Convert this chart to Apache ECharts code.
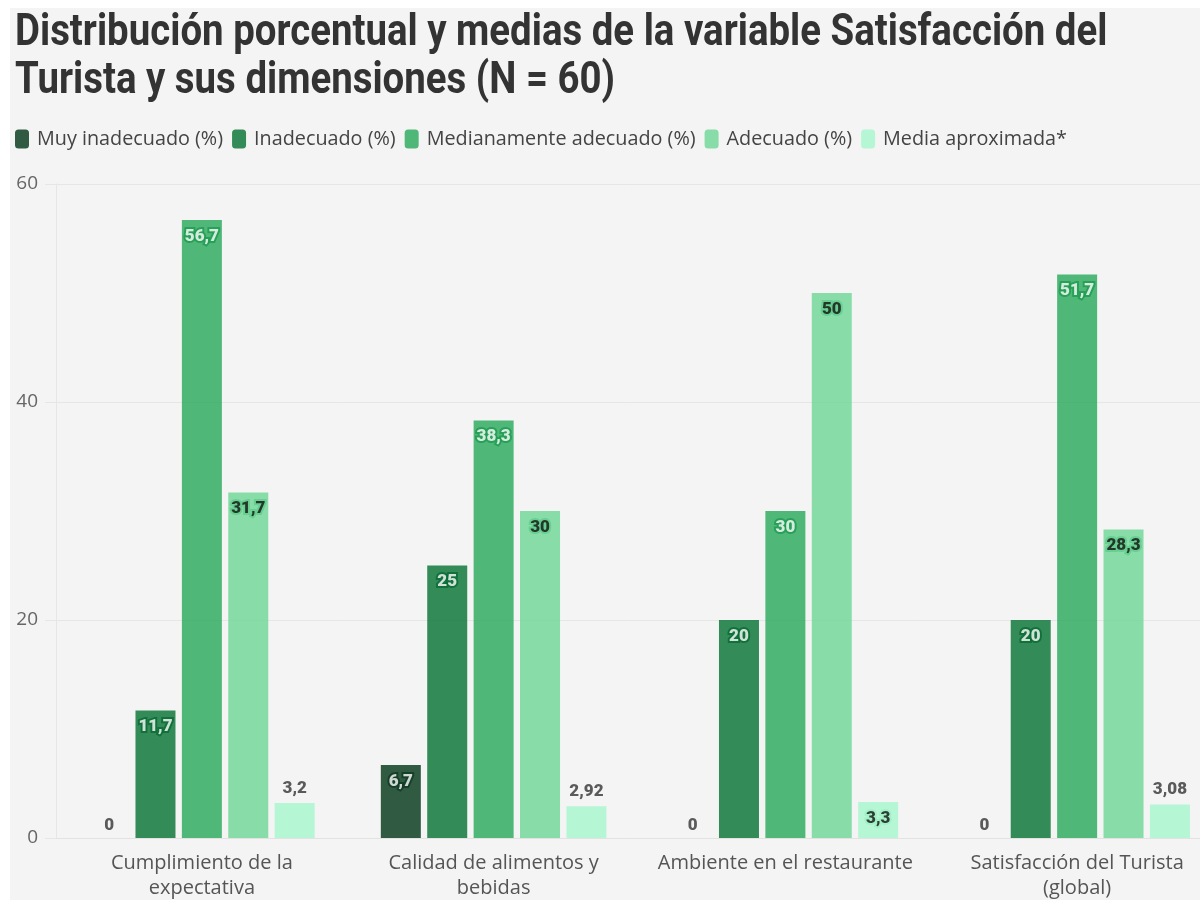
<!DOCTYPE html>
<html>
<head>
<meta charset="utf-8">
<script src="https://cdn.jsdelivr.net/npm/echarts@6/dist/echarts.min.js"></script>
<style>
  body { margin: 0; background: #ffffff; }
  #panel { position: absolute; left: 10px; top: 8px; width: 1190px; height: 892px; background: #f4f4f4; }
  #chart { position: absolute; left: 0; top: 0; width: 1200px; height: 900px; }
</style>
</head>
<body>
<div id="panel"></div>
<div id="chart"></div>
<script>
// datos
var categorias = ['Cumplimiento de la\nexpectativa', 'Calidad de alimentos y\nbebidas', 'Ambiente en el restaurante', 'Satisfacción del Turista\n(global)'];
var muyInadecuado = [0, 6.7, 0, 0];
var inadecuado = [11.7, 25, 20, 20];
var medianamente = [56.7, 38.3, 30, 51.7];
var adecuado = [31.7, 30, 50, 28.3];
var media = [3.2, 2.92, 3.3, 3.08];
var yTicks = [0, 20, 40, 60];

var chart = echarts.init(document.getElementById('chart'));

function coma(p) {
    return String(p.value).replace('.', ',');
}

function labelInside(color, stroke) {
    return {
        show: true, position: 'insideTop', distance: 8,
        color: color, textBorderColor: stroke, textBorderWidth: 4,
        fontFamily: 'Roboto', fontWeight: 900, fontSize: 17,
        formatter: coma
    };
}
var labelCero = {
    show: true, position: 'top', distance: 4, color: '#333',
    textBorderWidth: 0, fontFamily: 'Roboto', fontWeight: 900, fontSize: 17
};

// los ceros van encima de la base
function conCeros(arr) {
    return arr.map(function (v) {
        return v === 0 ? {value: v, label: labelCero} : v;
    });
}

var colores = ['#003315', '#037130', '#26a959', '#6cd695', '#a5f8cd'];
var fuente = 'Open Sans';

option = {
    color: colores,
    textStyle: {fontFamily: fuente},
    graphic: [
        {
            type: 'text', left: 15, top: 12, scaleX: 0.873, z: 10,
            style: {
                text: 'Distribución porcentual y medias de la variable Satisfacción del',
                font: 'bold 44px Roboto', fill: '#333'
            }
        },
        {
            type: 'text', left: 15, top: 60, scaleX: 0.873, z: 10,
            style: {
                text: 'Turista y sus dimensiones (N = 60)',
                font: 'bold 44px Roboto', fill: '#333'
            }
        }
    ],
    legend: {
        left: 10, top: 124, icon: 'roundRect', itemWidth: 14, itemHeight: 19,
        itemGap: 9,
        textStyle: {color: '#444', fontSize: 19.8, fontFamily: fuente, padding: [0, 0, 0, 3]},
        data: ['Muy inadecuado (%)', 'Inadecuado (%)', 'Medianamente adecuado (%)', 'Adecuado (%)', 'Media aproximada*']
    },
    grid: {left: 56, width: 1167, top: 184, bottom: 62, outerBoundsMode: 'none'},
    xAxis: {
        type: 'category',
        data: categorias,
        axisLine: {lineStyle: {color: '#e2e2e2'}},
        axisTick: {alignWithLabel: true, length: 10, lineStyle: {color: '#e2e2e2'}},
        axisLabel: {color: '#555', fontSize: 20, lineHeight: 25, margin: 13, interval: 0, fontFamily: fuente}
    },
    yAxis: {
        type: 'value', min: 0, max: 60, interval: 20,
        axisLine: {show: true, lineStyle: {color: '#e6e6e6'}},
        axisTick: {show: true, length: 11, lineStyle: {color: '#e6e6e6'}},
        splitLine: {lineStyle: {color: '#e6e6e6'}},
        axisLabel: {
            color: '#666', fontSize: 19, margin: 18, fontFamily: fuente,
            formatter: function (v) { return yTicks.indexOf(v) >= 0 ? String(v) : ''; }
        }
    },
    series: [
        {
            name: 'Muy inadecuado (%)', type: 'bar', barWidth: 40, barGap: '16%',
            itemStyle: {opacity: 0.8},
            label: labelInside('#fff', '#0d3a22'),
            data: conCeros(muyInadecuado)
        },
        {
            name: 'Inadecuado (%)', type: 'bar', barWidth: 40, barGap: '16%',
            itemStyle: {opacity: 0.8},
            label: labelInside('#fff', '#0a6a34'),
            data: inadecuado
        },
        {
            name: 'Medianamente adecuado (%)', type: 'bar', barWidth: 40, barGap: '16%',
            itemStyle: {opacity: 0.8},
            label: labelInside('#fff', '#1f9a50'),
            data: medianamente
        },
        {
            name: 'Adecuado (%)', type: 'bar', barWidth: 40, barGap: '16%',
            itemStyle: {opacity: 0.8},
            label: labelInside('#111', '#62cc8b'),
            data: adecuado
        },
        {
            name: 'Media aproximada*', type: 'bar', barWidth: 40, barGap: '16%',
            itemStyle: {opacity: 0.8},
            label: {
                show: true, position: 'top', distance: 6, color: '#333',
                fontFamily: 'Roboto', fontWeight: 900, fontSize: 17,
                formatter: coma
            },
            data: media.map(function (v) {
                return v === 3.3 ? {value: v, label: {position: 'insideTop', distance: 8, color: '#111', textBorderColor: '#9fefc4', textBorderWidth: 4}} : v;
            })
        }
    ]
};
chart.setOption(option);
</script>
</body>
</html>
